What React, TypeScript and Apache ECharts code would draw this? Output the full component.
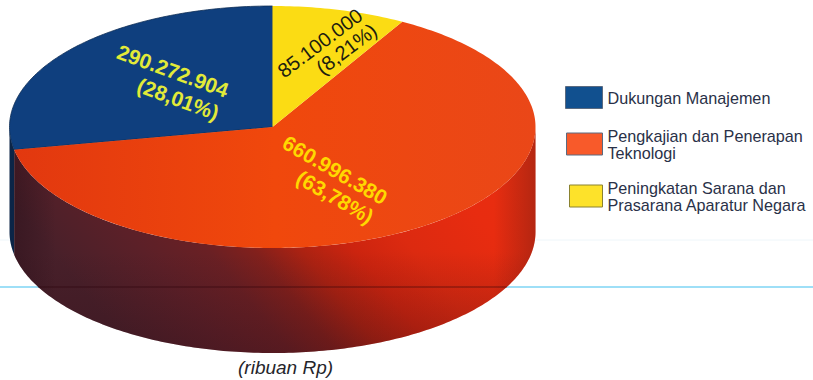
import React, { useEffect, useRef } from "react";
import * as echarts from "echarts";

const categories = ["Dukungan Manajemen", "Pengkajian dan Penerapan Teknologi", "Peningkatan Sarana dan Prasarana Aparatur Negara"];
const legendLines = ["Dukungan Manajemen", "Pengkajian dan Penerapan\nTeknologi", "Peningkatan Sarana dan\nPrasarana Aparatur Negara"];
const values = [290272904, 660996380, 85100000];
const valueLabels = ["290.272.904", "660.996.380", "85.100.000"];
const percentLabels = ["(28,01%)", "(63,78%)", "(8,21%)"];
const caption = "(ribuan Rp)";

const topColors = ["#0f3f7e", "#ee4310", "#fbdc14"];
const swatchColors = ["#11508f", "#f85a2a", "#fde22a"];
const labelColors = ["#e2ea38", "#ffd800", "#1c1c10"];

// Disc geometry: centre of the top face, radii of its ellipse, wall height.
const CX = 272.5;
const CY = 127;
const RX = 263;
const RY = 121;
const DEPTH = 105;

// Text lines per slice: [x, y, counter-clockwise rotation in degrees] for the amount, then the share.
const labelPlacement = [
  { amount: [173, 71, -20], share: [178, 99, -20], size: 21 },
  { amount: [335, 170, -30], share: [335, 197, -30], size: 21 },
  { amount: [320, 43, 37], share: [346.5, 49, 37], size: 20 },
];

const total = values.reduce((a, b) => a + b, 0);

// Slices run counter-clockwise from twelve o'clock: blue, orange, then yellow.
const sliceStart = (i: number) => values.slice(0, i).reduce((a, b) => a + b, 0) / total * Math.PI * 2;
const sliceEnd = (i: number) => sliceStart(i) + values[i] / total * Math.PI * 2;

const onEllipse = (t: number, dy = 0) => [CX - Math.sin(t) * RX, CY - Math.cos(t) * RY + dy];

const arcPoints = (a: number, b: number, dy = 0) => {
  const n = Math.max(2, Math.ceil(Math.abs(b - a) * 60));
  const pts: number[][] = [];
  for (let k = 0; k <= n; k++) pts.push(onEllipse(a + (b - a) * k / n, dy));
  return pts;
};

const gradient = (x: number, y: number, x2: number, y2: number, stops: [number, string][]) =>
  new echarts.graphic.LinearGradient(x, y, x2, y2, stops.map(([offset, color]) => ({ offset, color })));

// The lit side of the wall falls off diagonally towards the lower left.
const orangeWallBase = gradient(0, 0.35, 1, 0, [
  [0, "#48202a"],
  [0.16, "#5c2028"],
  [0.27, "#6a2024"],
  [0.35, "#82201c"],
  [0.43, "#ac2212"],
  [0.52, "#cc240f"],
  [0.62, "#dc2a10"],
  [0.78, "#e82c10"],
  [1, "#e83010"],
]);
const orangeWallShade = gradient(0, 0, 0, 1, [
  [0, "rgba(40,10,20,0)"],
  [0.55, "rgba(40,10,20,0)"],
  [1, "rgba(40,10,20,0.28)"],
]);
const orangeWallEdges = gradient(0, 0, 1, 0, [
  [0, "rgba(30,10,20,0.35)"],
  [0.08, "rgba(30,10,20,0)"],
  [0.92, "rgba(60,20,20,0)"],
  [1, "rgba(60,20,20,0.3)"],
]);
const orangeTopFill = gradient(0, 0, 1, 0, [
  [0, "#e2380f"],
  [0.5, "#f0480c"],
  [1, "#ea4718"],
]);

const renderSlice = (i: number) => () => {
  const children: any[] = [];
  const a = sliceStart(i);
  const b = sliceEnd(i);

  // Side wall: only the part of the slice facing the viewer (90° to 270° round the disc).
  const wallA = Math.max(a, Math.PI / 2);
  const wallB = Math.min(b, Math.PI * 1.5);
  if (wallB > wallA) {
    const wall = [...arcPoints(wallA, wallB), ...arcPoints(wallB, wallA, DEPTH)];
    if (i === 1) {
      [orangeWallBase, orangeWallShade, orangeWallEdges].forEach((fill) => {
        children.push({ type: "polygon", shape: { points: wall }, style: { fill } });
      });
    } else {
      children.push({ type: "polygon", shape: { points: wall }, style: { fill: "#0c2547" } });
    }
  }

  const top = [[CX, CY], ...arcPoints(a, b)];
  children.push({
    type: "polygon",
    shape: { points: top },
    style: { fill: i === 1 ? orangeTopFill : topColors[i], stroke: i === 0 ? "#0e2d55" : "none", lineWidth: 0.8 },
  });

  // A thin crease runs across the wall of the disc.
  if (i === 1) {
    const creaseY = 287;
    const u = Math.sqrt(1 - Math.pow((creaseY - CY - DEPTH) / RY, 2));
    children.push({
      type: "line",
      shape: { x1: CX - RX * u, y1: creaseY, x2: CX + RX * u, y2: creaseY },
      style: { stroke: "rgba(40,0,10,0.55)", lineWidth: 1 },
    });
  }

  const place = labelPlacement[i];
  [[valueLabels[i], place.amount], [percentLabels[i], place.share]].forEach(([text, pos]: any) => {
    children.push({
      type: "text",
      x: pos[0],
      y: pos[1],
      rotation: (pos[2] * Math.PI) / 180,
      style: {
        text,
        fill: labelColors[i],
        font: `${i === 2 ? "normal" : "bold"} ${place.size}px "Liberation Sans"`,
        align: "center",
        verticalAlign: "middle",
      },
    });
  });
  return { type: "group", children };
};

const legendAnchors = [
  { left: 565, top: 86, w: 37, h: 22 },
  { left: 566, top: 127, w: 36, h: 22 },
  { left: 569, top: 179, w: 33, h: 22 },
];

export default function App() {
  const ref = useRef<HTMLDivElement>(null);

  useEffect(() => {
    document.body.style.margin = "0";
    const chart = echarts.init(ref.current!, null, { renderer: "svg" });
    chart.setOption({
      animation: false,
      backgroundColor: "#ffffff",
      title: {
        text: caption,
        left: 238,
        top: 358,
        padding: 0,
        textStyle: { fontFamily: "Liberation Sans", fontStyle: "italic", fontWeight: "normal", fontSize: 19, color: "#25252b" },
      },
      legend: categories.map((name, i) => ({
        left: legendAnchors[i].left,
        top: legendAnchors[i].top,
        padding: 0,
        orient: "vertical",
        selectedMode: false,
        icon: "rect",
        itemWidth: legendAnchors[i].w,
        itemHeight: legendAnchors[i].h,
        data: [{ name, itemStyle: { color: swatchColors[i], borderColor: i === 2 ? "#8a8230" : "#5a6a80", borderWidth: 1 } }],
        formatter: () => legendLines[i],
        textStyle: { fontFamily: "Liberation Sans", fontSize: 16.2, lineHeight: 17, color: "#2a3148" },
      })),
      graphic: [
        { type: "line", shape: { x1: 0, y1: 287, x2: 813, y2: 287 }, style: { stroke: "#7ed4f4", lineWidth: 1.5 } },
        { type: "line", shape: { x1: 0, y1: 240, x2: 813, y2: 240 }, style: { stroke: "#eef6fa", lineWidth: 1 } },
      ],
      series: categories.map((name, i) => ({
        type: "custom",
        name,
        coordinateSystem: "none",
        renderItem: renderSlice(i),
        itemStyle: { color: swatchColors[i] },
        data: [[values[i]]],
      })),
    });
    return () => chart.dispose();
  }, []);

  return <div ref={ref} style={{ width: 813, height: 380 }} />;
}
